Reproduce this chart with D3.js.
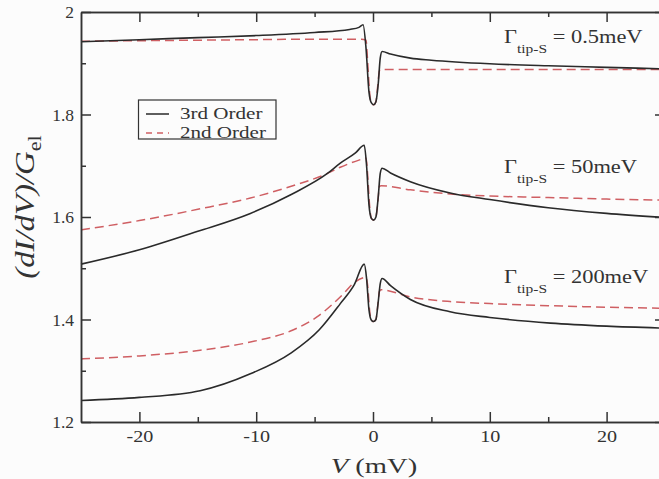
<!DOCTYPE html>
<html>
<head>
<meta charset="utf-8">
<script src="https://cdn.jsdelivr.net/npm/d3@7"></script>
<style>
  body { margin: 0; background: #fcfcfc; }
  svg { display: block; }
  text { font-family: "Liberation Serif", "Times New Roman", serif; fill: #333; }
</style>
</head>
<body>
<script>
// --- data: [V (mV), (dI/dV)/G_el] ---
const third05 = [[-25,1.942],[-20,1.946],[-15,1.950],[-10,1.954],[-5,1.960],[-2,1.966],[-1.2,1.970],[-0.85,1.975],
  [-0.6,1.93],[-0.35,1.845],[-0.15,1.823],[0.05,1.819],[0.25,1.825],[0.45,1.86],[0.62,1.91],[0.78,1.923],
  [1.5,1.918],[3.2,1.910],[5,1.906],[10,1.899],[15,1.895],[20,1.892],[25,1.889]];
const second05 = [[-25,1.943],[-20,1.944],[-15,1.945],[-10,1.946],[-5,1.947],[-1,1.947],[-0.6,1.945],
  [-0.45,1.90],[-0.3,1.845],[-0.15,1.823],[0.05,1.819],[0.25,1.825],[0.4,1.855],[0.55,1.885],[0.7,1.888],
  [3,1.888],[10,1.888],[20,1.888],[25,1.888]];

const third50 = [[-25,1.508],[-20,1.536],[-15,1.572],[-10.5,1.607],[-7,1.644],[-3.9,1.685],[-2.8,1.705],[-1.5,1.725],[-0.75,1.740],
  [-0.55,1.70],[-0.35,1.625],[-0.15,1.598],[0.05,1.594],[0.25,1.600],[0.45,1.64],[0.62,1.685],[0.78,1.695],
  [1.5,1.686],[3.2,1.669],[6.6,1.647],[10,1.634],[15,1.618],[20,1.607],[25,1.599]];
const second50 = [[-25,1.575],[-20,1.593],[-15,1.615],[-10.5,1.637],[-7,1.660],[-3.9,1.685],[-2.8,1.697],[-1.2,1.711],[-0.6,1.715],
  [-0.45,1.68],[-0.3,1.625],[-0.15,1.598],[0.05,1.594],[0.25,1.600],[0.42,1.63],[0.55,1.66],[0.7,1.661],
  [3.2,1.653],[6.6,1.645],[10,1.641],[15,1.638],[20,1.635],[25,1.633]];

const third200 = [[-25,1.242],[-20,1.248],[-14.8,1.261],[-10.5,1.294],[-7,1.335],[-4.6,1.380],[-2.8,1.431],[-1.6,1.468],[-0.75,1.508],
  [-0.55,1.48],[-0.35,1.42],[-0.15,1.399],[0.05,1.396],[0.25,1.400],[0.45,1.435],[0.62,1.47],[0.78,1.480],
  [1.5,1.466],[3.2,1.439],[6.6,1.415],[10,1.404],[15.2,1.393],[20,1.387],[25,1.383]];
const second200 = [[-25,1.323],[-20,1.329],[-14.8,1.340],[-10.5,1.356],[-6.8,1.380],[-4.8,1.405],[-2.5,1.451],[-1.66,1.471],[-0.6,1.482],
  [-0.45,1.465],[-0.3,1.42],[-0.15,1.399],[0.05,1.396],[0.25,1.400],[0.42,1.43],[0.55,1.455],[0.7,1.458],
  [3.2,1.444],[6.6,1.435],[10,1.431],[15,1.427],[20,1.424],[25,1.422]];

const xMajor = [-20, -10, 0, 10, 20];
const xMajorLabels = ["-20", "-10", "0", "10", "20"];
const xMinor = [-15, -5, 5, 15];
const yMajor = [1.2, 1.4, 1.6, 1.8, 2];
const yMajorLabels = ["1.2", "1.4", "1.6", "1.8", "2"];
const yMinor = [1.3, 1.5, 1.7, 1.9];

const gammaLabels = ["0.5meV", "50meV", "200meV"];
const legendNames = ["3rd Order", "2nd Order"];

// --- layout ---
const width = 659, height = 479;
const margin = { left: 81, top: 12, right: 665, bottom: 422 };
const black = "#2a2a2a", red = "#cf5f63";
const fontFamily = "Liberation Serif, Times New Roman, serif";

const x = d3.scaleLinear().domain([-25, 25]).range([margin.left, margin.right]);
const y = d3.scaleLinear().domain([1.2, 2]).range([margin.bottom, margin.top]);

const svg = d3.select("body").append("svg")
  .attr("width", width)
  .attr("height", height);

const line = d3.line()
  .x(d => x(d[0]))
  .y(d => y(d[1]))
  .curve(d3.curveMonotoneX);

// red (2nd order) first, black on top
[second05, second50, second200].forEach(s => {
  svg.append("path").datum(s)
    .attr("d", line)
    .attr("fill", "none")
    .attr("stroke", red)
    .attr("stroke-width", 1.5)
    .attr("stroke-dasharray", "9,5");
});
[third05, third50, third200].forEach(s => {
  svg.append("path").datum(s)
    .attr("d", line)
    .attr("fill", "none")
    .attr("stroke", black)
    .attr("stroke-width", 1.6);
});

// axes, ticks pointing inward
function styleAxis(g) {
  g.attr("font-family", fontFamily).attr("font-size", 17.5);
  g.selectAll("path, line").attr("stroke", "#333").attr("stroke-width", 1.5);
  g.selectAll("text").attr("fill", "#333");
}

svg.append("g").attr("transform", `translate(0,${margin.bottom})`)
  .call(d3.axisBottom(x).tickValues(xMajor).tickSize(-10).tickSizeOuter(0).tickPadding(8)
    .tickFormat((d, i) => xMajorLabels[i]))
  .call(styleAxis)
  .call(g => g.selectAll("text").attr("transform", "scale(1.15,1)"));
svg.append("g").attr("transform", `translate(0,${margin.bottom})`)
  .call(d3.axisBottom(x).tickValues(xMinor).tickSize(-5).tickSizeOuter(0).tickFormat(""))
  .call(styleAxis);
svg.append("g").attr("transform", `translate(0,${margin.top})`)
  .call(d3.axisTop(x).tickValues(xMajor).tickSize(-10).tickSizeOuter(0).tickFormat(""))
  .call(styleAxis);
svg.append("g").attr("transform", `translate(0,${margin.top})`)
  .call(d3.axisTop(x).tickValues(xMinor).tickSize(-5).tickSizeOuter(0).tickFormat(""))
  .call(styleAxis);

svg.append("g").attr("transform", `translate(${margin.left},0)`)
  .call(d3.axisLeft(y).tickValues(yMajor).tickSize(-10).tickSizeOuter(0).tickPadding(7)
    .tickFormat((d, i) => yMajorLabels[i]))
  .call(styleAxis);
svg.append("g").attr("transform", `translate(${margin.left},0)`)
  .call(d3.axisLeft(y).tickValues(yMinor).tickSize(-5).tickSizeOuter(0).tickFormat(""))
  .call(styleAxis);
svg.append("g").attr("transform", `translate(${margin.right},0)`)
  .call(d3.axisRight(y).tickValues(yMajor).tickSize(-10).tickSizeOuter(0).tickFormat(""))
  .call(styleAxis);
svg.append("g").attr("transform", `translate(${margin.right},0)`)
  .call(d3.axisRight(y).tickValues(yMinor).tickSize(-5).tickSizeOuter(0).tickFormat(""))
  .call(styleAxis);

// axis titles
const xt = svg.append("text")
  .attr("transform", "translate(374,473) scale(1.3,1)")
  .attr("text-anchor", "middle")
  .style("font-size", "22px");
xt.append("tspan").style("font-style", "italic").text("V");
xt.append("tspan").text(" (mV)");

const yt = svg.append("text")
  .attr("transform", "translate(34,207) rotate(-90) scale(1.17,1)")
  .attr("text-anchor", "middle")
  .style("font-size", "28px");
yt.append("tspan").style("font-style", "italic").text("(dI/dV)/G");
yt.append("tspan").attr("dy", 7).style("font-size", "19px").text("el");

// Γ annotations
const gammaY = [43, 173, 283];
gammaLabels.forEach((lab, i) => {
  const t = svg.append("text")
    .attr("transform", `translate(504,${gammaY[i]}) scale(1.15,1)`)
    .style("font-size", "19.5px");
  t.append("tspan").text("Γ");
  t.append("tspan").attr("dy", 10).style("font-size", "13.5px").text("tip-S");
  t.append("tspan").attr("dy", -10).text(" = " + lab);
});

// legend
const lg = svg.append("g");
lg.append("rect")
  .attr("x", 138.5).attr("y", 100).attr("width", 137.5).attr("height", 39)
  .attr("fill", "#fcfcfc").attr("stroke", "#333").attr("stroke-width", 1.2);
legendNames.forEach((name, i) => {
  const ly = 114 + i * 19;
  lg.append("line")
    .attr("x1", 146).attr("x2", 169).attr("y1", ly).attr("y2", ly)
    .attr("stroke", i === 0 ? black : red)
    .attr("stroke-width", 1.5)
    .attr("stroke-dasharray", i === 0 ? null : "6,5");
  lg.append("text")
    .attr("transform", `translate(180,${ly + 5}) scale(1.24,1)`)
    .style("font-size", "17px")
    .text(name);
});
</script>
</body>
</html>
